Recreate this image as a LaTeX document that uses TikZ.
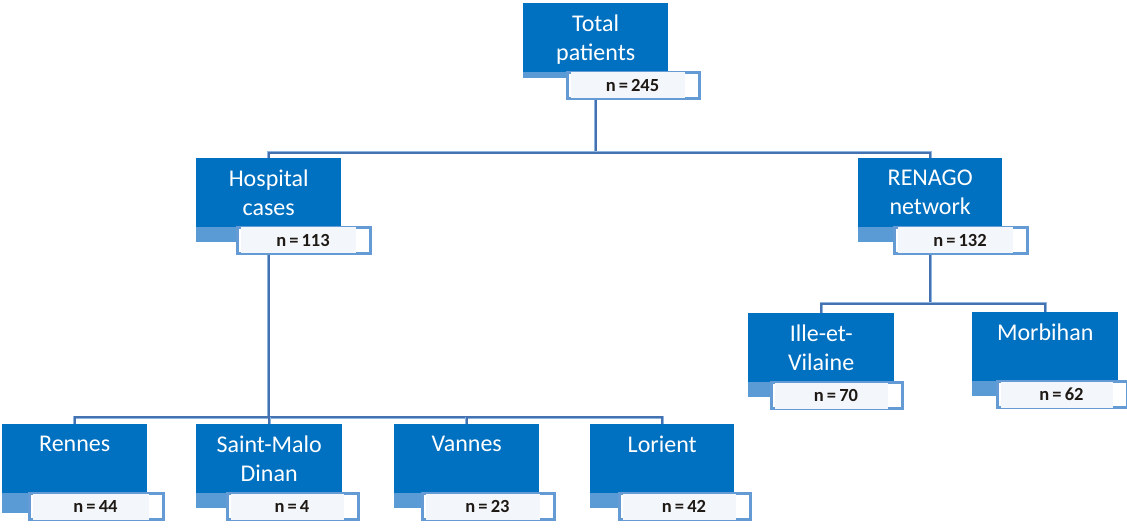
\documentclass[tikz,border=0pt]{standalone}
\usepackage{fontspec}
\setmainfont{Carlito}
\definecolor{boxblue}{RGB}{0,112,192}
\definecolor{stripblue}{RGB}{91,155,213}
\definecolor{rimblue}{RGB}{100,155,212}
\definecolor{linelight}{RGB}{140,180,222}
\definecolor{linedark}{RGB}{68,114,176}
\definecolor{ntext}{RGB}{30,25,20}
\definecolor{nfill}{RGB}{243,246,251}
\pgfdeclarelayer{bg}
\pgfsetlayers{bg,main}
\tikzset{
  bluebox/.style={fill=boxblue, draw=none, minimum height=69pt, inner sep=0pt, anchor=north west},
  bluetext/.style={text=white, font=\fontsize{24}{29}\selectfont, align=center, inner sep=0pt, anchor=north},
  whitebox/.style={draw=rimblue, line width=2.5pt, fill=white, minimum height=26pt, inner sep=0pt, anchor=north west},
  ntextstyle/.style={text=ntext, font=\fontsize{18.5}{20}\selectfont\bfseries, inner sep=0pt},
  conn/.style={draw=linelight, double=linedark, double distance=1.6pt, line width=0.7pt}
}
% #1 name, #2 x, #3 y, #4 blue width, #5 text, #6 white x, #7 white width, #8 n, #9 strip height
\newcommand\orgbox[9]{%
  \fill[stripblue] (#2,#3+69) rectangle (#6+6,#3+69+#9);
  \node[bluebox, minimum width=#4pt] (#1) at (#2,#3) {};
  \node[bluetext] (#1-t) at ([yshift=-12pt]#1.north) {#5};
  \node[whitebox, minimum width=#7pt] (#1-n) at (#6+1.25,#3+68.25) {};
  \fill[nfill] ([xshift=5pt,yshift=-1.25pt]#1-n.north west) rectangle ([xshift=-16pt,yshift=1.25pt]#1-n.south east);
  \node[ntextstyle] (#1-v) at ([xshift=-1pt]#1-n.center) {n\,=\,#8};
}
\begin{document}
\begin{tikzpicture}[x=1pt,y=-1pt]
\useasboundingbox (0,0) rectangle (1127,529);
\coordinate (bus1) at (0,153);
\coordinate (bus2) at (0,417);
\coordinate (bus3) at (0,304);
\orgbox{tot}{523}{3}{145}{Total\\patients}{565}{132}{245}{6}
\orgbox{hosp}{196}{158}{145}{Hospital\\cases}{235}{133}{113}{15}
\orgbox{ren}{858}{158}{144}{RENAGO\\network}{892}{133}{132}{15}
\orgbox{ille}{748}{313}{146}{Ille-et-\\Vilaine}{769}{131}{70}{15}
\orgbox{morb}{972}{312}{146}{Morbihan}{995}{130}{62}{15}
\orgbox{renn}{2}{424}{145}{Rennes}{27}{134}{44}{20}
\orgbox{smalo}{196}{424}{146}{Saint-Malo\\Dinan}{225}{131}{4}{15}
\orgbox{vann}{394}{424}{145}{Vannes}{420}{132}{23}{15}
\orgbox{lori}{590}{424}{144}{Lorient}{617}{131}{42}{15}
\begin{pgfonlayer}{bg}
  % Total -> Hospital, RENAGO
  \draw[conn] (tot.south) -- (tot.south |- bus1);
  \draw[conn] (hosp.north) |- (ren.north |- bus1) -- (ren.north);
  % Hospital -> four sites
  \draw[conn] (hosp.south) -- (hosp.south |- bus2);
  \draw[conn] (renn.north) |- (lori.north |- bus2) -- (lori.north);
  \draw[conn] (smalo.north) -- (smalo.north |- bus2);
  \draw[conn] (vann.north) -- (vann.north |- bus2);
  % RENAGO -> two departments
  \draw[conn] (ren.south) -- (ren.south |- bus3);
  \draw[conn] (ille.north) |- (morb.north |- bus3) -- (morb.north);
\end{pgfonlayer}
\end{tikzpicture}
\end{document}
